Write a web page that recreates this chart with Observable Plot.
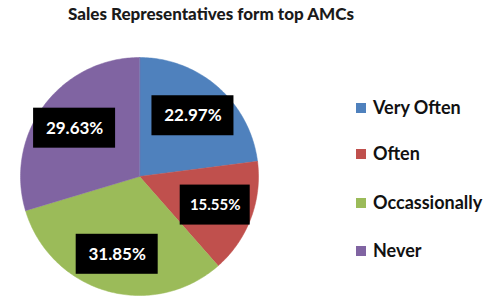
<!DOCTYPE html>
<html><head><meta charset="utf-8">
<script src="https://cdn.jsdelivr.net/npm/d3@7"></script>
<script src="https://cdn.jsdelivr.net/npm/@observablehq/plot@0.6"></script>
<style>
body{margin:0;background:#fff;font-family:Lato,"Open Sans",sans-serif;}
#wrap{position:relative;width:496px;height:302px;overflow:hidden;}
#title{position:absolute;left:0;top:3px;width:422px;text-align:center;font-weight:900;font-size:17px;color:#1a1a1a;}
#legend{position:absolute;left:356px;top:0;}
.li{position:absolute;left:0;white-space:nowrap;font-weight:bold;font-size:18px;color:#111;line-height:20px;}
.sw{display:inline-block;width:10px;height:10px;margin-right:7px;vertical-align:1px;}
#chart{position:absolute;left:0;top:0;}
</style></head><body>
<div id="wrap"><div id="chart"></div><div id="title">Sales Representatives form top AMCs</div><div id="legend"></div></div>
<script>
const categories = ["Very Often","Often","Occassionally","Never"];
const values = [22.97, 15.55, 31.85, 29.63];
const labels = ["22.97%","15.55%","31.85%","29.63%"];
const colors = ["#4F81BD","#C0504D","#9BBB59","#8064A2"];

const R = 119;
const pie = d3.pie().sort(null).startAngle(0).endAngle(2*Math.PI)(values);
const pts = [];
pie.forEach((p,i)=>{
  pts.push({cat:categories[i], x:0, y:0});
  const n = Math.max(2, Math.ceil((p.endAngle-p.startAngle)*60));
  for(let k=0;k<=n;k++){
    const a = p.startAngle + (p.endAngle-p.startAngle)*k/n;
    pts.push({cat:categories[i], x:R*Math.sin(a), y:R*Math.cos(a)});
  }
});
const lab = pie.map((p,i)=>{
  const a=(p.startAngle+p.endAngle)/2, r=R*0.68;
  return {cat:categories[i], text:labels[i], x:r*Math.sin(a), y:r*Math.cos(a), w: i===1?35:41};
});
const chart = Plot.plot({
  width:496, height:302, margin:0,
  x:{domain:[-139,357], axis:null},
  y:{domain:[-126,176], axis:null},
  color:{domain:categories, range:colors},
  marks:[
    Plot.line(pts,{x:"x",y:"y",z:"cat",fill:"cat",stroke:"cat",strokeWidth:0.5,curve:"linear-closed"}),
    Plot.rect(lab,{x1:d=>d.x-d.w,x2:d=>d.x+d.w,y1:d=>d.y-20,y2:d=>d.y+20,fill:"#000"}),
    Plot.text(lab,{x:"x",y:"y",text:"text",fill:"#fff",fontWeight:"bold",fontSize:d=>d.w<40?15:17,fontFamily:"Lato"})
  ]
});
document.getElementById("chart").appendChild(chart);
const lg=document.getElementById("legend");
const tops=[97,143,192,240];
categories.forEach((c,i)=>{
  const d=document.createElement("div");d.className="li";d.style.top=tops[i]+"px";
  d.innerHTML=`<span class="sw" style="background:${colors[i]}"></span>${c}`;
  lg.appendChild(d);
});
</script></body></html>
